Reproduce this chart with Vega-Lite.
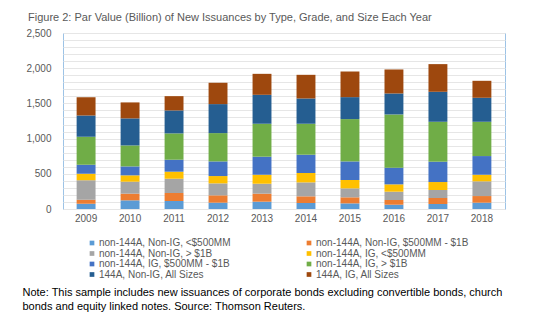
{
  "$schema": "https://vega.github.io/schema/vega-lite/v6.json",
  "width": 442,
  "height": 176,
  "autosize": {"type": "none"},
  "padding": {"left": 63, "top": 33, "right": 36, "bottom": 115},
  "background": "white",
  "config": {
    "font": "Liberation Sans",
    "view": {"stroke": "#9DC3E6", "strokeWidth": 1}
  },
  "title": {
    "text": "Figure 2: Par Value (Billion) of New Issuances by Type, Grade, and Size Each Year",
    "anchor": "start",
    "dx": 6,
    "offset": 5,
    "fontSize": 11,
    "fontWeight": "normal",
    "color": "#595959"
  },
  "data": {
    "values": [
      {"year": "2009", "series": "non-144A, Non-IG, <$500MM", "value": 76},
      {"year": "2009", "series": "non-144A, Non-IG, $500MM - $1B", "value": 56},
      {"year": "2009", "series": "non-144A, Non-IG, > $1B", "value": 275},
      {"year": "2009", "series": "non-144A, IG, <$500MM", "value": 94},
      {"year": "2009", "series": "non-144A, IG, $500MM - $1B", "value": 128},
      {"year": "2009", "series": "non-144A, IG, > $1B", "value": 397},
      {"year": "2009", "series": "144A, Non-IG, All Sizes", "value": 303},
      {"year": "2009", "series": "144A, IG, All Sizes", "value": 260},
      {"year": "2010", "series": "non-144A, Non-IG, <$500MM", "value": 123},
      {"year": "2010", "series": "non-144A, Non-IG, $500MM - $1B", "value": 95},
      {"year": "2010", "series": "non-144A, Non-IG, > $1B", "value": 170},
      {"year": "2010", "series": "non-144A, IG, <$500MM", "value": 90},
      {"year": "2010", "series": "non-144A, IG, $500MM - $1B", "value": 127},
      {"year": "2010", "series": "non-144A, IG, > $1B", "value": 298},
      {"year": "2010", "series": "144A, Non-IG, All Sizes", "value": 384},
      {"year": "2010", "series": "144A, IG, All Sizes", "value": 227},
      {"year": "2011", "series": "non-144A, Non-IG, <$500MM", "value": 114},
      {"year": "2011", "series": "non-144A, Non-IG, $500MM - $1B", "value": 113},
      {"year": "2011", "series": "non-144A, Non-IG, > $1B", "value": 203},
      {"year": "2011", "series": "non-144A, IG, <$500MM", "value": 100},
      {"year": "2011", "series": "non-144A, IG, $500MM - $1B", "value": 170},
      {"year": "2011", "series": "non-144A, IG, > $1B", "value": 374},
      {"year": "2011", "series": "144A, Non-IG, All Sizes", "value": 326},
      {"year": "2011", "series": "144A, IG, All Sizes", "value": 203},
      {"year": "2012", "series": "non-144A, Non-IG, <$500MM", "value": 90},
      {"year": "2012", "series": "non-144A, Non-IG, $500MM - $1B", "value": 104},
      {"year": "2012", "series": "non-144A, Non-IG, > $1B", "value": 170},
      {"year": "2012", "series": "non-144A, IG, <$500MM", "value": 104},
      {"year": "2012", "series": "non-144A, IG, $500MM - $1B", "value": 208},
      {"year": "2012", "series": "non-144A, IG, > $1B", "value": 402},
      {"year": "2012", "series": "144A, Non-IG, All Sizes", "value": 412},
      {"year": "2012", "series": "144A, IG, All Sizes", "value": 303},
      {"year": "2013", "series": "non-144A, Non-IG, <$500MM", "value": 104},
      {"year": "2013", "series": "non-144A, Non-IG, $500MM - $1B", "value": 114},
      {"year": "2013", "series": "non-144A, Non-IG, > $1B", "value": 141},
      {"year": "2013", "series": "non-144A, IG, <$500MM", "value": 128},
      {"year": "2013", "series": "non-144A, IG, $500MM - $1B", "value": 256},
      {"year": "2013", "series": "non-144A, IG, > $1B", "value": 468},
      {"year": "2013", "series": "144A, Non-IG, All Sizes", "value": 411},
      {"year": "2013", "series": "144A, IG, All Sizes", "value": 298},
      {"year": "2014", "series": "non-144A, Non-IG, <$500MM", "value": 85},
      {"year": "2014", "series": "non-144A, Non-IG, $500MM - $1B", "value": 95},
      {"year": "2014", "series": "non-144A, Non-IG, > $1B", "value": 198},
      {"year": "2014", "series": "non-144A, IG, <$500MM", "value": 133},
      {"year": "2014", "series": "non-144A, IG, $500MM - $1B", "value": 260},
      {"year": "2014", "series": "non-144A, IG, > $1B", "value": 440},
      {"year": "2014", "series": "144A, Non-IG, All Sizes", "value": 359},
      {"year": "2014", "series": "144A, IG, All Sizes", "value": 336},
      {"year": "2015", "series": "non-144A, Non-IG, <$500MM", "value": 80},
      {"year": "2015", "series": "non-144A, Non-IG, $500MM - $1B", "value": 86},
      {"year": "2015", "series": "non-144A, Non-IG, > $1B", "value": 127},
      {"year": "2015", "series": "non-144A, IG, <$500MM", "value": 119},
      {"year": "2015", "series": "non-144A, IG, $500MM - $1B", "value": 264},
      {"year": "2015", "series": "non-144A, IG, > $1B", "value": 601},
      {"year": "2015", "series": "144A, Non-IG, All Sizes", "value": 312},
      {"year": "2015", "series": "144A, IG, All Sizes", "value": 364},
      {"year": "2016", "series": "non-144A, Non-IG, <$500MM", "value": 61},
      {"year": "2016", "series": "non-144A, Non-IG, $500MM - $1B", "value": 67},
      {"year": "2016", "series": "non-144A, Non-IG, > $1B", "value": 118},
      {"year": "2016", "series": "non-144A, IG, <$500MM", "value": 104},
      {"year": "2016", "series": "non-144A, IG, $500MM - $1B", "value": 237},
      {"year": "2016", "series": "non-144A, IG, > $1B", "value": 756},
      {"year": "2016", "series": "144A, Non-IG, All Sizes", "value": 298},
      {"year": "2016", "series": "144A, IG, All Sizes", "value": 341},
      {"year": "2017", "series": "non-144A, Non-IG, <$500MM", "value": 71},
      {"year": "2017", "series": "non-144A, Non-IG, $500MM - $1B", "value": 85},
      {"year": "2017", "series": "non-144A, Non-IG, > $1B", "value": 114},
      {"year": "2017", "series": "non-144A, IG, <$500MM", "value": 113},
      {"year": "2017", "series": "non-144A, IG, $500MM - $1B", "value": 289},
      {"year": "2017", "series": "non-144A, IG, > $1B", "value": 567},
      {"year": "2017", "series": "144A, Non-IG, All Sizes", "value": 426},
      {"year": "2017", "series": "144A, IG, All Sizes", "value": 393},
      {"year": "2018", "series": "non-144A, Non-IG, <$500MM", "value": 90},
      {"year": "2018", "series": "non-144A, Non-IG, $500MM - $1B", "value": 94},
      {"year": "2018", "series": "non-144A, Non-IG, > $1B", "value": 209},
      {"year": "2018", "series": "non-144A, IG, <$500MM", "value": 94},
      {"year": "2018", "series": "non-144A, IG, $500MM - $1B", "value": 265},
      {"year": "2018", "series": "non-144A, IG, > $1B", "value": 487},
      {"year": "2018", "series": "144A, Non-IG, All Sizes", "value": 341},
      {"year": "2018", "series": "144A, IG, All Sizes", "value": 241}
    ]
  },
  "transform": [
    {"calculate": "indexof(['non-144A, Non-IG, <$500MM', 'non-144A, Non-IG, $500MM - $1B', 'non-144A, Non-IG, > $1B', 'non-144A, IG, <$500MM', 'non-144A, IG, $500MM - $1B', 'non-144A, IG, > $1B', '144A, Non-IG, All Sizes', '144A, IG, All Sizes'], datum.series)", "as": "k"}
  ],
  "mark": {"type": "bar"},
  "encoding": {
    "x": {
      "field": "year",
      "type": "ordinal",
      "scale": {"paddingInner": 0.57, "paddingOuter": 0.31},
      "axis": {
        "labelAngle": 0,
        "labelFontSize": 10,
        "labelColor": "#595959",
        "labelPadding": 4,
        "domain": false,
        "ticks": false,
        "title": ["Note: This sample includes new issuances of corporate bonds excluding convertible bonds, church", "bonds and equity linked notes. Source: Thomson Reuters."],
        "titleFontSize": 11,
        "titleFontWeight": "normal",
        "titleColor": "#000000",
        "titleAlign": "left",
        "titleAnchor": "start",
        "titleBaseline": "top",
        "titleLineHeight": 14,
        "titleX": -41,
        "titleY": 77
      }
    },
    "y": {
      "field": "value",
      "type": "quantitative",
      "stack": "zero",
      "scale": {"domain": [0, 2500], "nice": false},
      "axis": {
        "title": null,
        "values": [0,100,200,300,400,500,600,700,800,900,1000,1100,1200,1300,1400,1500,1600,1700,1800,1900,2000,2100,2200,2300,2400,2500],
        "labelExpr": "datum.value % 500 == 0 ? format(datum.value, ',') : ''",
        "labelFontSize": 10,
        "labelColor": "#595959",
        "labelPadding": 12,
        "domain": false,
        "ticks": false,
        "gridColor": "#E6E6E6",
        "gridWidth": 1
      }
    },
    "order": {"field": "k", "type": "quantitative", "sort": "ascending"},
    "color": {
      "field": "series",
      "type": "nominal",
      "sort": ["non-144A, Non-IG, <$500MM", "non-144A, Non-IG, $500MM - $1B", "non-144A, Non-IG, > $1B", "non-144A, IG, <$500MM", "non-144A, IG, $500MM - $1B", "non-144A, IG, > $1B", "144A, Non-IG, All Sizes", "144A, IG, All Sizes"],
      "scale": {
        "domain": ["non-144A, Non-IG, <$500MM", "non-144A, Non-IG, $500MM - $1B", "non-144A, Non-IG, > $1B", "non-144A, IG, <$500MM", "non-144A, IG, $500MM - $1B", "non-144A, IG, > $1B", "144A, Non-IG, All Sizes", "144A, IG, All Sizes"],
        "range": ["#5B9BD5", "#ED7D31", "#A5A5A5", "#FFC000", "#4472C4", "#70AD47", "#255E91", "#9E480E"]
      },
      "legend": {
        "title": null,
        "orient": "none",
        "direction": "horizontal",
        "legendX": 24,
        "legendY": 205,
        "columns": 2,
        "columnPadding": 73,
        "rowPadding": 0.5,
        "symbolType": "square",
        "symbolSize": 22,
        "symbolStrokeWidth": 0,
        "symbolOffset": 0,
        "labelOffset": 2,
        "labelFontSize": 10,
        "labelColor": "#595959",
        "labelLimit": 250
      }
    }
  }
}
